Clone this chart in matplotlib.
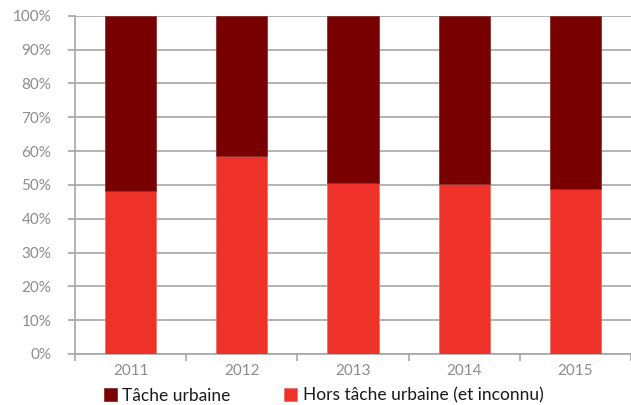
import matplotlib.pyplot as plt
import numpy as np

plt.rcParams['font.family'] = ['Lato', 'DejaVu Sans']

years = ['2011', '2012', '2013', '2014', '2015']
hors_tache = [48.2, 58.4, 50.5, 50.3, 48.8]
tache = [100 - v for v in hors_tache]

dark_red = '#780000'
red = '#ee3129'
grid_col = '#a6a6a6'
txt_col = '#8c8c8c'

fig = plt.figure(figsize=(6.31, 4.05), dpi=100)
ax = fig.add_axes([0.119, 0.126, 0.881, 0.835])

x = np.arange(len(years))
ax.bar(x, hors_tache, width=0.46, color=red, edgecolor='#f07070', linewidth=0.6,
       label='Hors tâche urbaine (et inconnu)', zorder=3)
ax.bar(x, tache, bottom=hors_tache, width=0.46, color=dark_red, edgecolor='#8a3030',
       linewidth=0.6, label='Tâche urbaine', zorder=3)

ax.set_xlim(-0.5, len(years) - 0.5)
ax.set_ylim(0, 100)
ax.set_yticks(np.arange(0, 101, 10))
ax.set_yticklabels([f'{v}%' for v in range(0, 101, 10)])
ax.set_xticks(x)
ax.set_xticklabels(years)
ax.set_xticks(np.arange(-0.5, len(years)), minor=True)

ax.yaxis.grid(True, color=grid_col, linewidth=1.2, zorder=0)
ax.set_axisbelow(True)
for s in ['top', 'right']:
    ax.spines[s].set_visible(False)
for s in ['left', 'bottom']:
    ax.spines[s].set_color(grid_col)
    ax.spines[s].set_linewidth(1.2)

ax.tick_params(axis='y', length=5, width=1.2, color=grid_col, labelcolor=txt_col,
               labelsize=11, pad=12)
ax.tick_params(axis='x', which='major', length=0, labelcolor=txt_col, labelsize=11, pad=7)
ax.tick_params(axis='x', which='minor', length=5, width=1.2, color=grid_col, direction='out')

h, l = ax.get_legend_handles_labels()
fig.legend(h[::-1], l[::-1], loc='lower left', bbox_to_anchor=(0.14, -0.035), ncol=2,
           frameon=False, fontsize=12.5, handlelength=0.75, handleheight=0.75,
           handletextpad=0.3, columnspacing=3.1, labelcolor='#1a1a1a')

fig.savefig('out.png', dpi=100)
